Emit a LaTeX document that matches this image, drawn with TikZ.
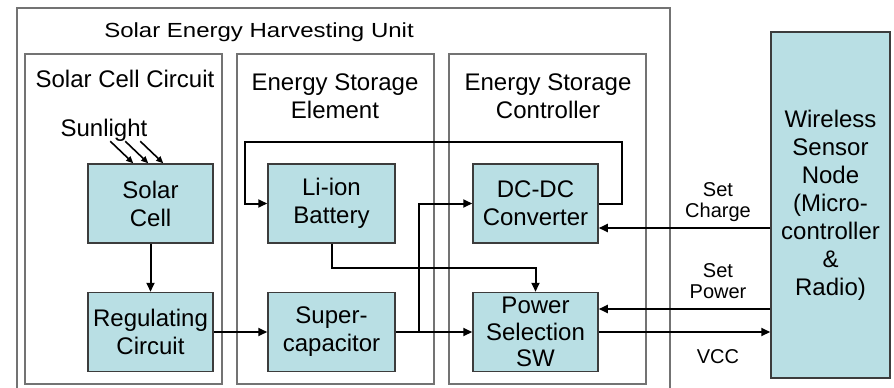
\documentclass[tikz,border=0pt]{standalone}
\usepackage{fontspec}
\setmainfont{Liberation Sans}
\usepackage{graphicx}
\usetikzlibrary{positioning,arrows.meta,calc}
\definecolor{BlockTeal}{RGB}{185,223,228}
\definecolor{FrameGray}{RGB}{115,115,115}
\definecolor{EdgeGray}{RGB}{60,60,60}

\begin{document}
\begin{tikzpicture}[x=1pt, y=-1pt, font=\fontsize{24}{28}\selectfont, every node/.style={align=center}]
\tikzset{
  blockbox/.style={draw=EdgeGray, line width=1.5pt, fill=BlockTeal, minimum width=125pt, minimum height=79pt, inner sep=0pt},
  groupbox/.style={draw=FrameGray, line width=1.3pt},
  arr/.style={-{Triangle[length=9pt,width=8pt]}, line width=2pt},
  sunarr/.style={-{Triangle[length=7pt,width=6pt]}, line width=1.6pt},
  sidelabel/.style={font=\fontsize{20}{21}\selectfont}
}
\useasboundingbox (0,0) rectangle (894,388);

  % group frames
  \draw[groupbox] (17,388) -- (17,8) -- (670,8) -- (670,388);
  \draw[groupbox] (25,54) rectangle (222,384);
  \draw[groupbox] (237,54) rectangle (434,384);
  \draw[groupbox] (449,54) rectangle (646,384);
  \node (unit) at (259,32) {\scalebox{1}[0.85]{Solar Energy Harvesting Unit}};
  \node (cellgrp) at (125,79) {Solar Cell Circuit};
  \node (elemgrp) at (335,96) {Energy Storage\\Element};
  \node (ctrlgrp) at (548,96) {Energy Storage\\Controller};

  % blocks
  \node[blockbox] (solar) at (150.5,203.5) {Solar\\Cell};
  \node[blockbox, below=48pt of solar] (reg) {Regulating\\Circuit};
  \node[blockbox, minimum width=127pt] (liion) at (331.5,203.5) {Li-ion\\Battery};
  \node[blockbox, minimum width=127pt, below=48pt of liion] (supcap) {Super-\\capacitor};
  \node[blockbox] (dcdc) at (535.5,203.5) {DC-DC\\Converter};
  \node[blockbox, below=48pt of dcdc, font=\fontsize{24}{26.5}\selectfont] (psel) {Power\\Selection\\SW};
  \node[blockbox, minimum width=119pt, minimum height=346pt] (wsn) at (830.5,205) {Wireless\\Sensor\\Node\\(Micro-\\controller\\\&\\Radio)};

  \node (sun) at (104,130) {Sunlight};
  \foreach \dx in {46,61,76}
    \draw[sunarr] ($(solar.north west)+(\dx-23,-22)$) -- ($(solar.north west)+(\dx,0)$);

  % power paths
  \draw[arr] (solar) -- (reg);
  \draw[arr] (reg) -- (supcap);
  \draw[arr] (supcap) -- (psel);
  \coordinate (loopR) at (622,142);
  \coordinate (loopL) at (245,142);
  \draw[arr] (dcdc.east) -| (loopR) -- (loopL) |- (liion.west);
  \draw[arr] (liion.south) -- ++(0,24) -| (psel.north);
  \coordinate (tap) at (419,330.5);
  \draw[arr] (tap) |- (dcdc.west);

  % control lines
  \coordinate (chg) at ($(dcdc.east)+(0,24.5)$);
  \coordinate (pwr) at ($(psel.east)+(0,-23)$);
  \draw[arr] (wsn.west |- chg) -- (chg);
  \draw[arr] (wsn.west |- pwr) -- (pwr);
  \draw[arr] (psel.east) -- (wsn.west |- psel.east);
  \node[sidelabel] (chglbl) at (718,202.5) {Set\\Charge};
  \node[sidelabel] (pwrlbl) at (718,281) {Set\\Power};
  \node[sidelabel] (vcclbl) at (718,357) {VCC};
\end{tikzpicture}
\end{document}
